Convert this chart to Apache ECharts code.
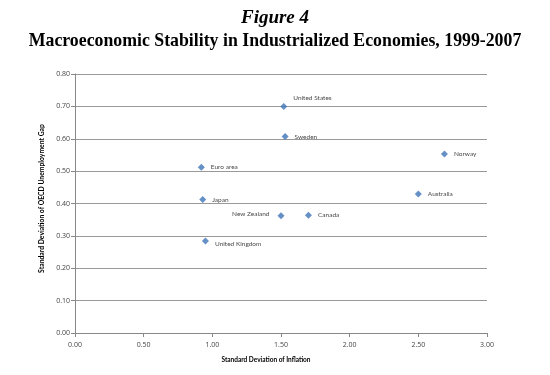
<!DOCTYPE html>
<html><head><meta charset="utf-8">
<script src="https://cdn.jsdelivr.net/npm/echarts@6/dist/echarts.min.js"></script>
<style>html,body{margin:0;padding:0;background:#fff}#c{width:550px;height:375px}</style>
</head><body><div id="c"></div>
<script>
const countries = ["United States","Sweden","Norway","Euro area","Australia","Japan","New Zealand","Canada","United Kingdom"];
const inflationSD = [1.52, 1.53, 2.69, 0.92, 2.50, 0.93, 1.50, 1.70, 0.95];
const unemploymentGapSD = [0.70, 0.607, 0.553, 0.512, 0.429, 0.412, 0.362, 0.364, 0.284];
const labelPositions = ["aboveRight","right","right","right","right","right","left","right","belowRight"];
const xTicks = [0, 3, 0.5];
const yTicks = [0, 0.8, 0.1];

const labelFor = p => {
  if (p === "aboveRight") return {position: "right", distance: 6, offset: [0, -8]};
  if (p === "belowRight") return {position: "right", distance: 6, offset: [0, 3]};
  if (p === "left") return {position: "left", distance: 8, offset: [0, -2]};
  return {position: "right", distance: 6};
};
const data = countries.map((c, i) => ({
  name: c,
  value: [inflationSD[i], unemploymentGapSD[i]],
  label: labelFor(labelPositions[i])
}));

const chart = echarts.init(document.getElementById('c'), null, {renderer: 'canvas'});
chart.setOption({
  animation: false,
  backgroundColor: '#fff',
  title: [
    {text: 'Figure 4', left: 'center', top: 4,
     textStyle: {fontFamily: 'Liberation Serif', fontWeight: 'bold', fontStyle: 'italic', fontSize: 19, color: '#000'}},
    {text: 'Macroeconomic Stability in Industrialized Economies, 1999-2007', left: 'center', top: 27,
     textStyle: {fontFamily: 'Liberation Serif', fontWeight: 'bold', fontSize: 17.8, color: '#000'}}
  ],
  grid: {left: 75, right: 63, top: 74, bottom: 42},
  xAxis: {
    type: 'value', min: xTicks[0], max: xTicks[1], interval: xTicks[2],
    name: 'Standard Deviation of Inflation', nameLocation: 'middle', nameGap: 23,
    nameTextStyle: {fontFamily: 'Lato', fontWeight: 'bold', fontSize: 6.5, color: '#000', padding: [0, 30, 0, 0]},
    axisLine: {lineStyle: {color: '#888'}},
    axisTick: {show: true, length: 4, lineStyle: {color: '#888'}},
    axisLabel: {formatter: v => v.toFixed(2), fontFamily: 'Open Sans', fontSize: 7, color: '#444', margin: 8},
    splitLine: {show: false}
  },
  yAxis: {
    type: 'value', min: yTicks[0], max: yTicks[1], interval: yTicks[2],
    name: 'Standard Deviation of OECD Unemployment Gap', nameLocation: 'middle', nameGap: 19,
    nameTextStyle: {fontFamily: 'Lato', fontWeight: 'bold', fontSize: 6.8, color: '#000', padding: [0, 0, 0, 10]},
    axisLine: {show: true, lineStyle: {color: '#888'}},
    axisTick: {show: true, length: 4, lineStyle: {color: '#888'}},
    axisLabel: {formatter: v => v.toFixed(2), fontFamily: 'Open Sans', fontSize: 7, color: '#444', margin: 5},
    splitLine: {show: true, lineStyle: {color: '#999', width: 1}}
  },
  series: [{
    type: 'scatter',
    symbol: 'diamond',
    symbolSize: 7,
    itemStyle: {color: '#3f74b8'},
    label: {show: true, formatter: '{b}', fontFamily: 'Lato', fontSize: 6.5, color: '#111'},
    data: data
  }]
});
</script></body></html>
